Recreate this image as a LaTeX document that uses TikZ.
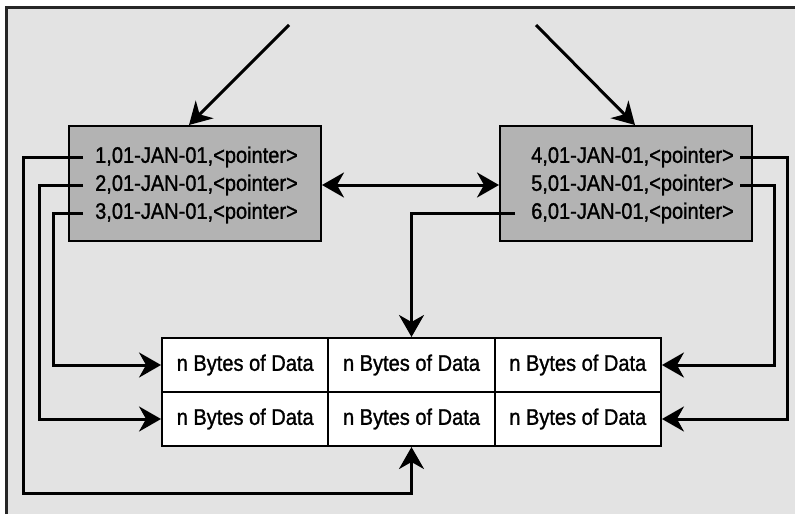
\documentclass[tikz,border=0pt]{standalone}
\usepackage{fontspec}
\setmainfont{Liberation Sans}[FakeStretch=0.89,FakeBold=1.2]
\usetikzlibrary{arrows.meta}

\definecolor{bggray}{HTML}{E3E3E3}
\definecolor{boxgray}{HTML}{B3B3B3}

\begin{document}
\begin{tikzpicture}[x=1pt,y=-1pt,
    font=\fontsize{22.5}{28}\selectfont,
    arr/.style={line width=3pt,-{Stealth[length=22pt,width=25pt,inset=7pt]}},
    blockbox/.style={draw,line width=2pt,fill=boxgray,minimum width=252pt,minimum height=115pt},
    lrow/.style={anchor=west,inner xsep=12pt,inner ysep=2pt},
    rrow/.style={anchor=east,inner xsep=6pt,inner ysep=2pt},
    cell/.style={draw,line width=2pt,fill=white,minimum width=166.3pt,minimum height=54pt,inner sep=0pt}]

    \useasboundingbox (0,0) rectangle (795,514);

    % background
    \fill[bggray] (6,7) rectangle (795,514);
    \draw[line width=3pt,black!85] (6,514) -- (6,7) -- (795,7);

    % define coordinates
    \coordinate (inL) at (289,25) ;
    \coordinate (inR) at (536,25) ;

    % index blocks
    \node[blockbox] (lbox) at (195,183.5) {};
    \node[blockbox] (rbox) at (626,183.5) {};

    \node[lrow] (r1) at (83,157) {1,01-JAN-01,<pointer>};
    \node[lrow] (r2) at (83,185) {2,01-JAN-01,<pointer>};
    \node[lrow] (r3) at (83,213) {3,01-JAN-01,<pointer>};

    \node[rrow] (r4) at (740,157) {4,01-JAN-01,<pointer>};
    \node[rrow] (r5) at (740,185) {5,01-JAN-01,<pointer>};
    \node[rrow] (r6) at (740,213) {6,01-JAN-01,<pointer>};

    % data table
    \node[cell] (c11) at (245.2,365) {n Bytes of Data};
    \node[cell] (c12) at (411.5,365) {n Bytes of Data};
    \node[cell] (c13) at (577.8,365) {n Bytes of Data};
    \node[cell] (c21) at (245.2,419) {n Bytes of Data};
    \node[cell] (c22) at (411.5,419) {n Bytes of Data};
    \node[cell] (c23) at (577.8,419) {n Bytes of Data};

    % incoming
    \draw[arr] (inL) -- ([xshift=-6pt]lbox.north);
    \draw[arr] (inR) -- ([xshift=9pt]rbox.north);

    % between blocks
    \draw[line width=3pt,{Stealth[length=22pt,width=25pt,inset=7pt]}-{Stealth[length=22pt,width=25pt,inset=7pt]}]
        (lbox.east |- r2) -- (rbox.west |- r2);

    % pointers
    \draw[arr] (r1.west) -- ++(-60,0) |- ([yshift=-46pt]c22.south) -- (c22.south);
    \draw[arr] (r2.west) -- ++(-44,0) |- (c21.west);
    \draw[arr] (r3.west) -- ++(-30,0) |- (c11.west);

    \draw[arr] (r4.east) -- ++(47,0) |- (c23.east);
    \draw[arr] (r5.east) -- ++(34,0) |- (c13.east);
    \draw[arr] ([xshift=-10pt]r6.west) -| (c12.north);

\end{tikzpicture}
\end{document}
